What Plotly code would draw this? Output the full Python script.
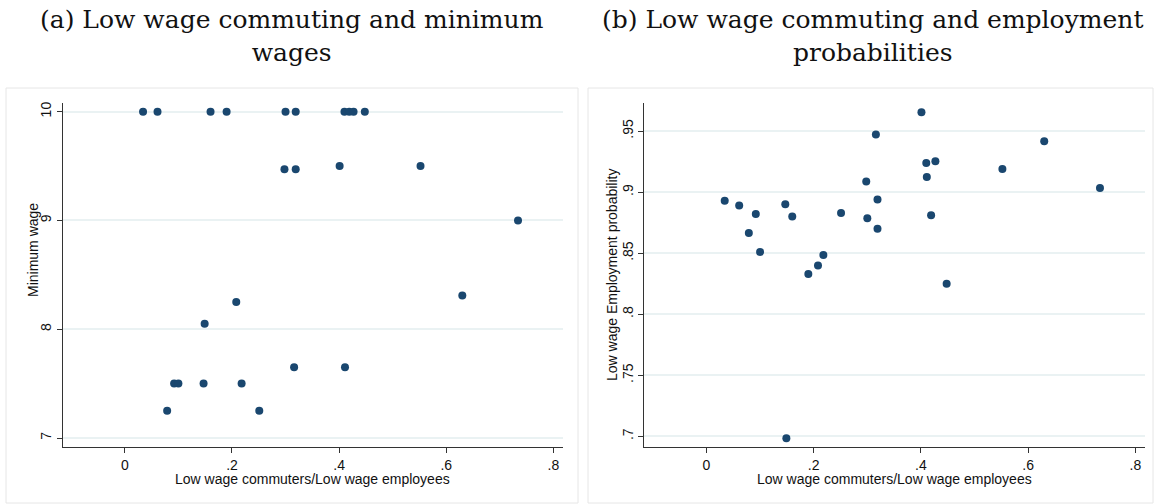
import plotly.graph_objects as go

# share of low wage workers who commute out, one value per state
commute_share = [0.034, 0.061, 0.079, 0.092, 0.100, 0.147, 0.149, 0.160, 0.190,
                 0.208, 0.218, 0.251, 0.298, 0.300, 0.316, 0.319, 0.319, 0.401,
                 0.410, 0.411, 0.419, 0.427, 0.448, 0.552, 0.630, 0.734]
min_wage = [10, 10, 7.25, 7.5, 7.5, 7.5, 8.05, 10, 10,
            8.25, 7.5, 7.25, 9.47, 10, 7.65, 9.47, 10, 9.5,
            10, 7.65, 10, 10, 10, 9.5, 8.31, 9.0]
emp_prob = [0.893, 0.889, 0.8665, 0.882, 0.851, 0.890, 0.6985, 0.880, 0.833,
            0.840, 0.8485, 0.883, 0.9088, 0.8786, 0.9473, 0.8939, 0.870, 0.9655,
            0.9238, 0.9124, 0.881, 0.9252, 0.825, 0.919, 0.9416, 0.9034]

x_ticks = [0, 0.2, 0.4, 0.6, 0.8]
x_labels = ["0", ".2", ".4", ".6", ".8"]
mw_ticks = [7, 8, 9, 10]
emp_ticks = [0.7, 0.75, 0.8, 0.85, 0.9, 0.95]
emp_labels = [".7", ".75", ".8", ".85", ".9", ".95"]

W, H = 1156, 504
NAVY = "#1a476f"
GRID = "#eaf2f3"
SANS = "Liberation Sans, Arial, sans-serif"
SERIF = "DejaVu Serif, serif"


def px_x(p):
    return p / W


def px_y(p):
    return 1 - p / H


fig = go.Figure()
fig.add_trace(go.Scatter(x=commute_share, y=min_wage, mode="markers",
                         marker=dict(color=NAVY, size=8), xaxis="x", yaxis="y"))
fig.add_trace(go.Scatter(x=commute_share, y=emp_prob, mode="markers",
                         marker=dict(color=NAVY, size=8), xaxis="x2", yaxis="y2"))

ydom = [px_y(446.7), px_y(103)]
common_x = dict(range=[-0.116, 0.818], tickvals=x_ticks, ticktext=x_labels,
                showline=True, linecolor="#333", linewidth=1, ticks="outside",
                ticklen=5, tickcolor="#333", showgrid=False, zeroline=False,
                tickfont=dict(family=SANS, size=14, color="#111"))
common_y = dict(showline=True, linecolor="#333", linewidth=1, ticks="outside",
                ticklen=5, tickcolor="#333", showgrid=True, gridcolor=GRID,
                gridwidth=1.5, zeroline=False, tickangle=-90,
                tickfont=dict(family=SANS, size=14, color="#111"))

fig.update_layout(
    width=W, height=H,
    margin=dict(l=0, r=0, t=0, b=0, autoexpand=False),
    paper_bgcolor="white", plot_bgcolor="white",
    showlegend=False,
    xaxis=dict(domain=[px_x(62.7), px_x(563)], anchor="y", **common_x),
    yaxis=dict(domain=ydom, anchor="x", range=[6.92, 10.08],
               tickvals=mw_ticks, ticktext=[str(t) for t in mw_ticks], **common_y),
    xaxis2=dict(domain=[px_x(644.3), px_x(1145)], anchor="y2", **common_x),
    yaxis2=dict(domain=ydom, anchor="x2", range=[0.6915, 0.973],
                tickvals=emp_ticks, ticktext=emp_labels, **common_y),
)

# light frames around each graph region
for x0, x1 in [(6, 578), (588, 1153)]:
    fig.add_shape(type="rect", xref="paper", yref="paper",
                  x0=px_x(x0), x1=px_x(x1), y0=px_y(503), y1=px_y(88),
                  line=dict(color="#e6e6e6", width=1))

annots = [
    dict(text="(a) Low wage commuting and minimum<br>wages", x=px_x(292), y=px_y(36),
         font=dict(family=SERIF, size=25, color="#111")),
    dict(text="(b) Low wage commuting and employment<br>probabilities", x=px_x(872), y=px_y(36),
         font=dict(family=SERIF, size=25, color="#111")),
    dict(text="Low wage commuters/Low wage employees", x=px_x(312.9), y=px_y(479),
         font=dict(family=SANS, size=14, color="#111")),
    dict(text="Low wage commuters/Low wage employees", x=px_x(894.7), y=px_y(479),
         font=dict(family=SANS, size=14, color="#111")),
    dict(text="Minimum wage", x=px_x(33), y=px_y(250), textangle=-90,
         font=dict(family=SANS, size=14, color="#111")),
    dict(text="Low wage Employment probability", x=px_x(612), y=px_y(275), textangle=-90,
         font=dict(family=SANS, size=14, color="#111")),
]
for a in annots:
    fig.add_annotation(xref="paper", yref="paper", showarrow=False,
                       xanchor="center", yanchor="middle", **a)

# drop the default 8px body margin so the figure fills the window exactly
fig.write_html("out.html", config={"displayModeBar": False},
               post_script="document.body.style.margin = '0px';")
